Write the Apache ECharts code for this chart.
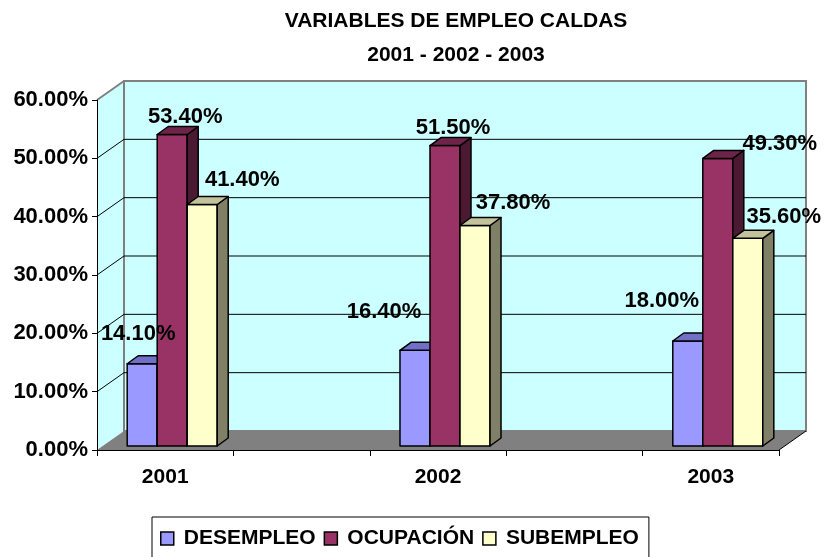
<!DOCTYPE html>
<html>
<head>
<meta charset="utf-8">
<script src="https://cdn.jsdelivr.net/npm/echarts@6/dist/echarts.min.js"></script>
<style>html,body{margin:0;padding:0;background:#fff;}#c{width:825px;height:557px;}</style>
</head>
<body>
<div id="c"></div>
<script>
// ---- data ----
const years = ['2001', '2002', '2003'];
const desempleo = [14.1, 16.4, 18.0];
const ocupacion = [53.4, 51.5, 49.3];
const subempleo = [41.4, 37.8, 35.6];
const seriesNames = ['DESEMPLEO', 'OCUPACIÓN', 'SUBEMPLEO'];
const yTicks = [0, 10, 20, 30, 40, 50, 60];

// ---- layout / style constants ----
const FONT = "'Liberation Sans', Arial, sans-serif";
const DX = 27, DY = -19;          // wall depth
const FRONT_DX = 7, FRONT_DY = -4; // bar front face depth
const DDX = 11, DDY = -8;          // bar depth
const BAR_FRAC = 0.22;
const colors = [
  { front: '#9999FF', top: '#7070C8', side: '#4D4D80' },
  { front: '#993366', top: '#6E2448', side: '#4C1933' },
  { front: '#FFFFCC', top: '#C2C29C', side: '#808066' }
];
// label nudges relative to bar top-front centre (manual placement as in the original)
const labelShift = [
  [[-4, -30], [-31, -38], [-26, -40]],
  [[13, -18], [8, -18], [62, -14]],
  [[40, -25], [38, -23], [36, -21]]
];

// categories with empty slots between years (as in the original sheet)
const categories = [];
years.forEach((y, i) => { if (i > 0) categories.push(''); categories.push(y); });
const slot = i => i * 2;

const chart = echarts.init(document.getElementById('c'));

function wallsItem(params, api) {
  const cs = params.coordSys;
  const L = cs.x, R = cs.x + cs.width, T = cs.y, B = cs.y + cs.height;
  const children = [];
  children.push({ type: 'polygon', shape: { points: [[L, T], [L + DX, T + DY], [L + DX, B + DY], [L, B]] },
    style: { fill: '#CCFFFF', stroke: null } });
  children.push({ type: 'rect', shape: { x: L + DX, y: T + DY, width: R - L, height: B - T },
    style: { fill: '#CCFFFF', stroke: '#808080', lineWidth: 2 } });
  yTicks.forEach(t => {
    if (t === 0 || t === 60) return;
    const y = api.coord([0, t])[1];
    children.push({ type: 'line', shape: { x1: L + DX, y1: y + DY, x2: R + DX, y2: y + DY }, style: { stroke: '#000', lineWidth: 1 } });
    children.push({ type: 'line', shape: { x1: L, y1: y, x2: L + DX, y2: y + DY }, style: { stroke: '#000', lineWidth: 1 } });
  });
  children.push({ type: 'line', shape: { x1: L, y1: T, x2: L + DX, y2: T + DY }, style: { stroke: '#808080', lineWidth: 2 } });
  children.push({ type: 'polygon', shape: { points: [[L, B], [L + DX, B + DY], [R + DX, B + DY], [R, B]] },
    style: { fill: '#808080', stroke: null } });
  children.push({ type: 'line', shape: { x1: R, y1: B, x2: R + DX, y2: B + DY }, style: { stroke: '#000', lineWidth: 1 } });
  return { type: 'group', children };
}

function barRenderer(s) {
  return function (params, api) {
    const xi = api.value(0), v = api.value(1);
    const base = api.coord([xi, 0]);
    const top = api.coord([xi, v]);
    const cw = api.size([1, 0])[0];
    const w = cw * BAR_FRAC;
    const cx = base[0] + FRONT_DX;
    const x0 = cx - 1.5 * w + s * w, x1 = x0 + w;
    const yb = base[1] + FRONT_DY, yt = top[1] + FRONT_DY;
    const c = colors[s];
    const st = (fill) => ({ fill, stroke: '#000', lineWidth: 1.5, lineJoin: 'round' });
    const sh = labelShift[s][params.dataIndex];
    return {
      type: 'group',
      children: [
        { type: 'rect', shape: { x: x0, y: yt, width: w, height: yb - yt }, style: st(c.front) },
        { type: 'polygon', shape: { points: [[x1, yt], [x1 + DDX, yt + DDY], [x1 + DDX, yb + DDY], [x1, yb]] }, style: st(c.side) },
        { type: 'polygon', shape: { points: [[x0, yt], [x1, yt], [x1 + DDX, yt + DDY], [x0 + DDX, yt + DDY]] }, style: st(c.top) },
        { type: 'text', z2: 100, style: { x: (x0 + x1) / 2 + sh[0], y: yt + sh[1], text: v.toFixed(2) + '%',
          fill: '#000', font: 'bold 22px ' + FONT, align: 'center', verticalAlign: 'middle' } }
      ]
    };
  };
}

const seriesData = [desempleo, ocupacion, subempleo];
const series = [{
  type: 'custom', name: 'walls', silent: true, clip: false, z: 1,
  data: [[0, 0]], renderItem: wallsItem
}];
seriesData.forEach((arr, s) => {
  series.push({
    type: 'custom', name: seriesNames[s], clip: false, z: 3,
    itemStyle: { color: colors[s].front, borderColor: '#000', borderWidth: 1.5 },
    data: arr.map((v, i) => [slot(i), v]),
    renderItem: barRenderer(s)
  });
});

chart.setOption({
  animation: false,
  backgroundColor: '#fff',
  title: {
    text: 'VARIABLES DE EMPLEO CALDAS\n2001 - 2002 - 2003',
    left: 456, top: 4, padding: 0, textAlign: 'center',
    textStyle: { fontFamily: FONT, fontWeight: 'bold', fontSize: 21, color: '#000', lineHeight: 34 }
  },
  legend: {
    data: seriesNames,
    left: 152, top: 517, orient: 'horizontal',
    padding: [11, 10, 40, 8],
    itemGap: 8, itemWidth: 13, itemHeight: 13, icon: 'rect',
    borderColor: '#000', borderWidth: 1,
    itemStyle: { borderColor: '#000', borderWidth: 1.5 },
    textStyle: { fontFamily: FONT, fontWeight: 'bold', fontSize: 21, color: '#000', padding: [0, 0, 0, 5] }
  },
  grid: { left: 97, right: 46, top: 100, bottom: 107, containLabel: false },
  xAxis: {
    type: 'category', data: categories, boundaryGap: true, z: 10,
    axisLine: { lineStyle: { color: '#000', width: 1 } },
    axisTick: { show: true, length: 6, lineStyle: { color: '#000' } },
    axisLabel: { interval: 0, margin: 17, fontFamily: FONT, fontWeight: 'bold', fontSize: 21, color: '#000' },
    splitLine: { show: false }
  },
  yAxis: {
    type: 'value', min: 0, max: 60, interval: 10, z: 10,
    axisLine: { show: true, lineStyle: { color: '#000', width: 1 } },
    axisTick: { show: true, length: 5, lineStyle: { color: '#000' } },
    axisLabel: { margin: 9, fontFamily: FONT, fontWeight: 'bold', fontSize: 22, color: '#000',
      formatter: v => v.toFixed(2) + '%' },
    splitLine: { show: false }
  },
  series
});
</script>
</body>
</html>
